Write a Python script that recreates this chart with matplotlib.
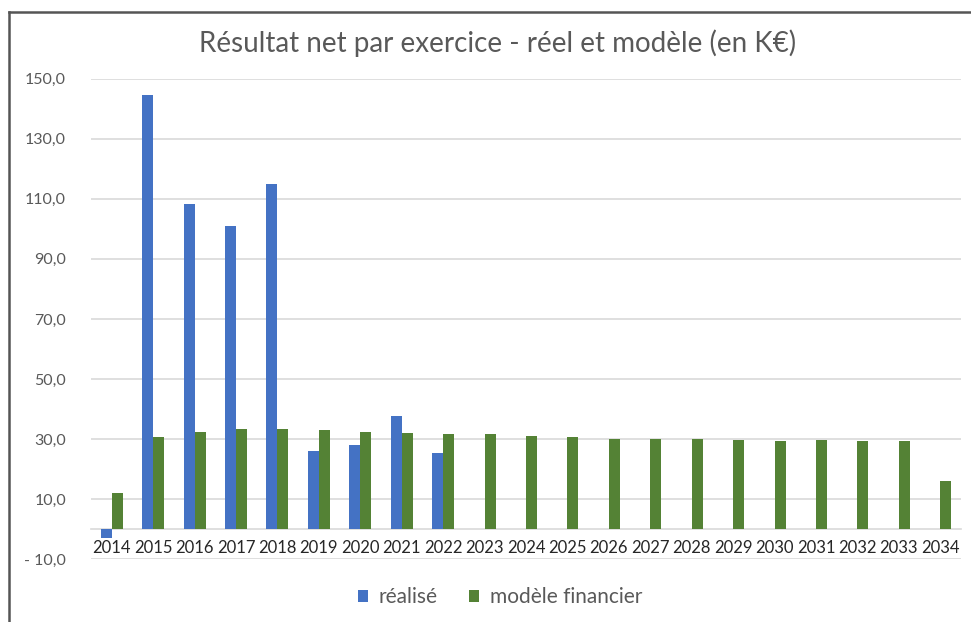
import matplotlib
matplotlib.use('Agg')
import matplotlib.pyplot as plt
import numpy as np
from matplotlib.lines import Line2D
from matplotlib.ticker import FuncFormatter

plt.rcParams['font.family'] = ['Lato', 'DejaVu Sans']

# data (K€)
years = [str(y) for y in range(2014, 2035)]
realise = [-3.0, 144.7, 108.2, 100.9, 115.0, 26.1, 27.9, 37.6, 25.2]
modele = [11.9, 30.6, 32.4, 33.3, 33.3, 32.9, 32.4, 32.0, 31.6, 31.6, 31.1,
          30.6, 30.1, 30.1, 30.1, 29.7, 29.2, 29.7, 29.2, 29.2, 16.0]
yticks = [-10, 10, 30, 50, 70, 90, 110, 130, 150]

blue = "#4472C4"
green = "#548235"
grey_txt = "#595959"

fig = plt.figure(figsize=(9.71, 6.22), dpi=100)
ax = fig.add_axes([0.0937, 0.1013, 0.896, 0.772])

x = np.arange(len(years))
w = 0.265
ax.bar(x[:len(realise)] - w / 2, realise, width=w, color=blue, label="réalisé", zorder=3)
ax.bar(x + w / 2, modele, width=w, color=green, label="modèle financier", zorder=3)

ax.set_xlim(-0.5, len(years) - 0.5)
ax.set_ylim(-10, 150)
ax.set_yticks(yticks)

def fmt(v, pos):
    s = "{:.1f}".format(abs(v)).replace(".", ",")
    return "- " + s if v < 0 else s

ax.yaxis.set_major_formatter(FuncFormatter(fmt))
ax.grid(axis='y', color="#D9D9D9", linewidth=1.2, zorder=0)
ax.set_axisbelow(True)

for s in ['top', 'right', 'left']:
    ax.spines[s].set_visible(False)
ax.spines['bottom'].set_position(('data', 0))
ax.spines['bottom'].set_color("#D9D9D9")
ax.spines['bottom'].set_linewidth(1.2)
ax.spines['bottom'].set_zorder(2)

ax.set_xticks(x)
ax.set_xticklabels(years)
ax.tick_params(axis='x', length=0, pad=8, labelsize=12, labelcolor="#262626")
ax.tick_params(axis='y', length=0, pad=18, labelsize=11.5, labelcolor=grey_txt)

fig.text(0.512, 0.931, "Résultat net par exercice - réel et modèle (en K€)",
         ha='center', va='center', fontsize=20, color=grey_txt)

fig.legend(loc='center', bbox_to_anchor=(0.515, 1 - 597 / 622), ncol=2, frameon=False,
           fontsize=15, labelcolor=grey_txt, handlelength=0.5, handleheight=0.5,
           handletextpad=0.5, columnspacing=1.5)

# outer frame (top and left edges of the screenshot)
fig.add_artist(Line2D([9 / 971, 1], [1 - 12 / 622] * 2, color="#555555", lw=1.8))
fig.add_artist(Line2D([9 / 971] * 2, [0, 1 - 12 / 622], color="#555555", lw=1.8))

fig.savefig("out.png", dpi=100)
